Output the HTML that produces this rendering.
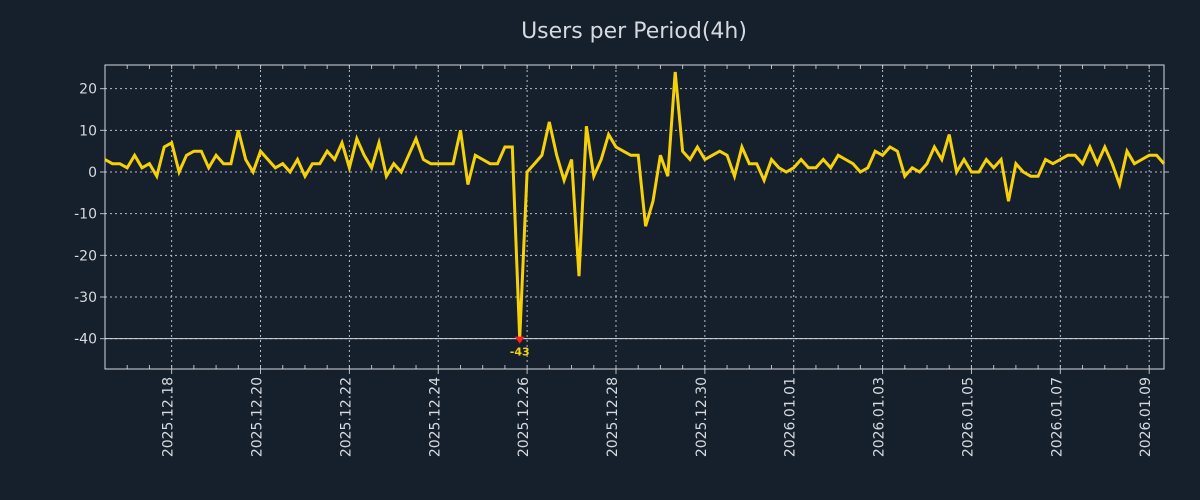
<!DOCTYPE html>
<html><head><meta charset="utf-8"><style>
html,body{margin:0;padding:0;background:#161f2c;}
svg{display:block;font-family:"DejaVu Sans","Liberation Sans",sans-serif;}
</style></head><body>
<svg id="chart" width="1200" height="500">
<rect width="1200" height="500" fill="#161f2c"/>
<text x="634" y="38" fill="#d6d9de" font-size="22" text-anchor="middle">Users per Period(4h)</text>
<g id="grid"></g><g id="axes"></g><g id="series"></g><g id="annot"></g>
</svg>
<script>
const startTime = Date.UTC(2025,11,16,12);
const periodHours = 4;
const values = [3,2,2,1,4,1,2,-1,6,7,0,4,5,5,1,4,2,2,10,3,0,5,3,1,2,0,3,-1,2,2,5,3,7,1,8,4,1,7,-1,2,0,4,8,3,2,2,2,2,10,-3,4,3,2,2,6,6,-40,0,2,4,12,4,-2,3,-25,11,-1,3,9,6,5,4,4,-13,-7,4,-1,24,5,3,6,3,4,5,4,-1,6,2,2,-2,3,1,0,1,3,1,1,3,1,4,3,2,0,1,5,4,6,5,-1,1,0,2,6,3,9,0,3,0,0,3,1,3,-7,2,0,-1,-1,3,2,3,4,4,2,6,2,6,2,-3,5,2,3,4,4,2];
const yTicks = [20,10,0,-10,-20,-30,-40];
const xTickLabels = ["2025.12.18","2025.12.20","2025.12.22","2025.12.24","2025.12.26","2025.12.28","2025.12.30","2026.01.01","2026.01.03","2026.01.05","2026.01.07","2026.01.09"];
const minLabel = ["-43"];

const NS="http://www.w3.org/2000/svg";
const L=105,R=1164,T=65,B=369;
const n=values.length;
const endTime=startTime+(n-1)*periodHours*3600e3;
function xs(t){return L+(t-startTime)/(endTime-startTime)*(R-L);}
function ys(v){return 172-(v*250/60);}
function parseDate(s){const p=s.split('.');return Date.UTC(+p[0],+p[1]-1,+p[2]);}
function mk(tag,attrs,parent){const e=document.createElementNS(NS,tag);for(const k in attrs)e.setAttribute(k,attrs[k]);parent.appendChild(e);return e;}
const grid=document.getElementById('grid'),axes=document.getElementById('axes'),series=document.getElementById('series'),annot=document.getElementById('annot');
const gc="#b8bcc2";
yTicks.forEach(v=>{const y=ys(v);
 const g=mk('line',{x1:L,x2:R,y1:y,y2:y,stroke:gc,'stroke-width':1,'stroke-dasharray':'2,3'},grid);
 
 
 mk('line',{x1:L-5,x2:L,y1:y,y2:y,stroke:gc},axes);
 mk('line',{x1:R,x2:R+5,y1:y,y2:y,stroke:gc},axes);
 const t=mk('text',{x:L-8,y:y+5,fill:'#d6d9de','font-size':14,'text-anchor':'end'},axes);
 t.textContent=v;
 
 
});
for(let t=parseDate("2025.12.17");t<=endTime;t+=12*3600e3){const x=xs(t);if(x<L)continue;
 mk('line',{x1:x,x2:x,y1:T,y2:T+4,stroke:gc},axes);mk('line',{x1:x,x2:x,y1:B-4,y2:B,stroke:gc},axes);}
xTickLabels.forEach(s=>{const x=xs(parseDate(s));
 const g=mk('line',{x1:x,x2:x,y1:T,y2:B,stroke:gc,'stroke-width':1,'stroke-dasharray':'2,3'},grid);
 
 
 mk('line',{x1:x,x2:x,y1:B,y2:B+5,stroke:gc},axes);
 const t=mk('text',{x:0,y:0,fill:'#d6d9de','font-size':14,'text-anchor':'end',transform:`translate(${x+1},${B+8}) rotate(-90)`},axes);
 t.textContent=s;
 
 
});
const frame=mk('rect',{x:L,y:T,width:R-L,height:B-T,fill:'none',stroke:'#d6d9de','stroke-width':1},axes);


let minI=0;values.forEach((v,i)=>{if(v<values[minI])minI=i;});
const hl=mk('line',{x1:L,x2:R,y1:ys(values[minI]),y2:ys(values[minI]),stroke:'#d6d9de','stroke-width':1},annot);


const pts=values.map((v,i)=>xs(startTime+i*periodHours*3600e3).toFixed(1)+','+ys(v).toFixed(1)).join(' ');
const line=mk('polyline',{points:pts,fill:'none',stroke:'#f5d10a','stroke-width':3,'stroke-linejoin':'miter'},series);


const mx=xs(startTime+minI*periodHours*3600e3),my=ys(values[minI]);
const m=mk('polygon',{points:`${mx-5},${my-2} ${mx+5},${my-2} ${mx},${my+5}`,fill:'#ff2020'},annot);


const ml=mk('text',{x:mx,y:my+17,fill:'#f5d10a','font-size':11,'font-weight':'bold','text-anchor':'middle'},annot);
ml.textContent=minLabel[0];


</script>
</body></html>
